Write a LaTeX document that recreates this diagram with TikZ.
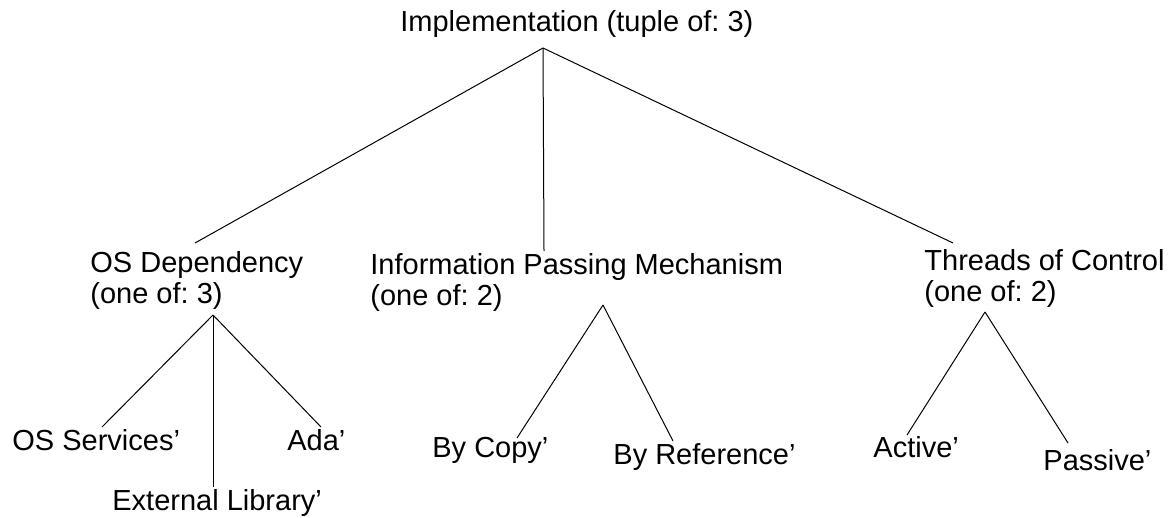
\documentclass[tikz,border=0pt]{standalone}
\usepackage{fontspec}
\setmainfont{Liberation Sans}
\frenchspacing
\tikzset{
  lbl/.style={anchor=base west,inner sep=0pt,align=left,
    font=\fontsize{14.5}{15.5}\selectfont},
  branch/.style={line width=0.5pt,draw=black},
}
\begin{document}
\begin{tikzpicture}[x=0.5pt,y=-0.5pt]
  \useasboundingbox (0,0) rectangle (1172,518);
  % labels (two-line labels sit on their last line)
  \node[lbl] (impl) at (400,32) {Implementation (tuple of: 3)};
  \node[lbl] (osdep) at (90,303) {OS Dependency\\(one of: 3)};
  \node[lbl] (info) at (370,306) {Information Passing Mechanism\\(one of: 2)};
  \node[lbl] (thr) at (924,301) {Threads of Control\\(one of: 2)};
  \node[lbl] (ossvc) at (12,450) {OS Services'};
  \node[lbl] (extlib) at (112,510) {External Library'};
  \node[lbl] (ada) at (287,450) {Ada'};
  \node[lbl] (bycopy) at (432,457) {By Copy'};
  \node[lbl] (byref) at (613,464) {By Reference'};
  \node[lbl] (active) at (873,457) {Active'};
  \node[lbl] (passive) at (1043,470) {Passive'};
  % branch points and line ends
  \coordinate (impl-j) at (543,48);
  \coordinate (osdep-t) at (195,243);
  \coordinate (info-t) at (544,251);
  \coordinate (thr-t) at (953,243);
  \coordinate (osdep-j) at (213,315);
  \coordinate (ossvc-t) at (102,427);
  \coordinate (extlib-t) at (213,487);
  \coordinate (ada-t) at (321,427);
  \coordinate (info-j) at (603,305);
  \coordinate (bycopy-t) at (517,438);
  \coordinate (byref-t) at (673,441);
  \coordinate (thr-j) at (985,312);
  \coordinate (active-t) at (907,435);
  \coordinate (passive-t) at (1068,443);
  % tree
  \foreach \e in {osdep-t,info-t,thr-t} \draw[branch] (impl-j) -- (\e);
  \foreach \e in {ossvc-t,extlib-t,ada-t} \draw[branch] (osdep-j) -- (\e);
  \foreach \e in {bycopy-t,byref-t} \draw[branch] (info-j) -- (\e);
  \foreach \e in {active-t,passive-t} \draw[branch] (thr-j) -- (\e);
\end{tikzpicture}
\end{document}
